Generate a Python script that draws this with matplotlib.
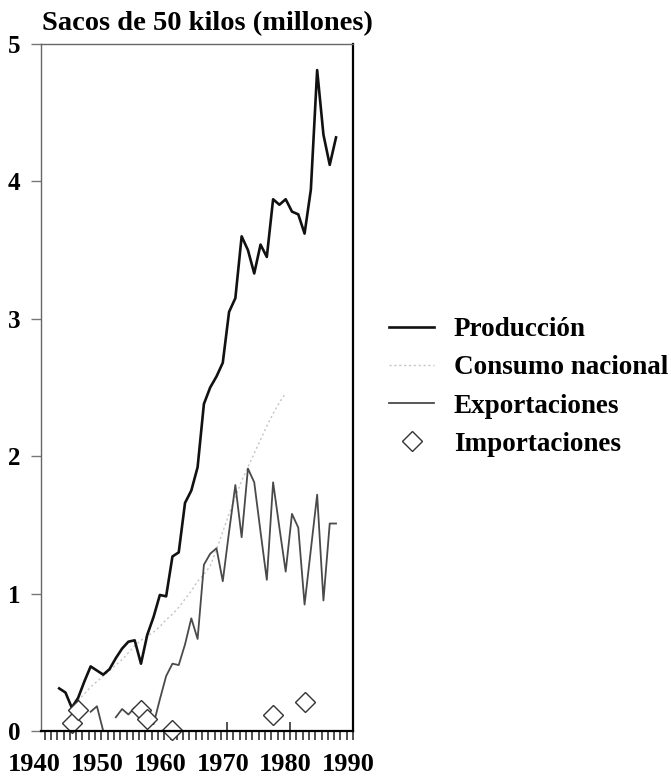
import numpy as np
import matplotlib
matplotlib.use("Agg")
import matplotlib.pyplot as plt

nan = np.nan

# annual series, 1944-1988 (millions of 50 kg sacks)
years = list(range(1944, 1989))
produccion = [0.31, 0.28, 0.17, 0.24, 0.36, 0.47, 0.44, 0.41, 0.45, 0.53,
              0.60, 0.65, 0.66, 0.49, 0.70, 0.83, 0.99, 0.98, 1.27, 1.30,
              1.66, 1.75, 1.92, 2.38, 2.50, 2.58, 2.68, 3.05, 3.15, 3.60,
              3.50, 3.33, 3.54, 3.45, 3.87, 3.83, 3.87, 3.78, 3.76, 3.62,
              3.94, 4.81, 4.34, 4.12, 4.32]
consumo = [nan, nan, nan, 0.22, 0.27, 0.32, 0.36, 0.40, 0.44, 0.48,
           0.52, 0.57, 0.62, 0.66, 0.69, 0.72, 0.76, 0.81, 0.85, 0.90,
           0.96, 1.02, 1.09, 1.14, 1.20, 1.32, 1.45, 1.58, 1.70, 1.82,
           1.92, 2.02, 2.12, 2.22, 2.31, 2.39, 2.46, nan, nan, nan,
           nan, nan, nan, nan, nan]
exportaciones = [nan, nan, nan, nan, nan, 0.14, 0.18, 0.0, nan, 0.10,
                 0.16, 0.12, 0.17, 0.14, 0.08, 0.05, 0.23, 0.40, 0.49, 0.48,
                 0.63, 0.82, 0.67, 1.21, 1.29, 1.33, 1.09, 1.45, 1.79, 1.41,
                 1.91, 1.81, 1.45, 1.10, 1.81, 1.48, 1.16, 1.58, 1.48, 0.92,
                 1.32, 1.72, 0.95, 1.51, 1.51]

imp_years = [1946, 1947, 1957, 1958, 1962, 1978, 1983]
importaciones = [0.06, 0.15, 0.15, 0.09, 0.01, 0.12, 0.21]

decades = [1940, 1950, 1960, 1970, 1980, 1990]
yticks = [0, 1, 2, 3, 4, 5]

font = "Liberation Serif"
plt.rcParams["font.family"] = font
plt.rcParams["font.weight"] = "bold"

fig = plt.figure(figsize=(6.71, 7.77), dpi=100)
ax = fig.add_axes([0.0611, 0.0592, 0.4650, 0.8842])

ax.plot(years, consumo, color="#c4c4c4", lw=1.0, ls=(0, (1.5, 2.0)),
        label="Consumo nacional")
ax.plot(years, exportaciones, color="#4a4a4a", lw=1.3, label="Exportaciones")
ax.plot(years, produccion, color="#111111", lw=1.9, label="Producción")
ax.plot(imp_years, importaciones, ls="none", marker="D", markersize=10,
        mfc="white", mec="#333333", mew=1.0, clip_on=False,
        label="Importaciones")

ax.set_xlim(1941.11, 1990.63)
ax.set_ylim(0, 5)

# yearly ticks below the axis, two longer ones at 1970 / 1980
ax.set_xticks(np.arange(1941, 1991) + 0.7, minor=True)
ax.set_xticks([1970.7, 1980.7])
ax.set_xticklabels([])
ax.tick_params(axis="x", which="minor", direction="out", length=6.5,
               width=1.2, color="#333333")
ax.tick_params(axis="x", which="major", direction="inout", length=13,
               width=1.2, color="#333333")
for d in decades:
    ax.text(d, -0.245, str(d), transform=ax.transData, ha="center",
            va="center", fontsize=19, fontweight="bold", clip_on=False)

ax.set_yticks(yticks)
ax.set_yticklabels([str(v) for v in yticks], fontsize=18, fontweight="bold")
ax.tick_params(axis="y", direction="out", length=7, width=1.0,
               color="#777777", pad=8)

for side in ["left", "top"]:
    ax.spines[side].set_color("#666666")
    ax.spines[side].set_linewidth(1.0)
ax.spines["bottom"].set_linewidth(1.6)
ax.spines["right"].set_linewidth(1.6)

fig.text(0.062, 0.970, "Sacos de 50 kilos (millones)", fontsize=20.5,
         fontweight="bold", ha="left", va="center")

handles, labels = ax.get_legend_handles_labels()
order = [2, 0, 1, 3]
fig.legend([handles[i] for i in order], [labels[i] for i in order],
           loc="upper left", bbox_to_anchor=(0.58, 0.592), frameon=False,
           fontsize=19.5, handlelength=1.65, handletextpad=0.74,
           labelspacing=0.49, borderaxespad=0, borderpad=0)

fig.savefig("out.png", dpi=100)
